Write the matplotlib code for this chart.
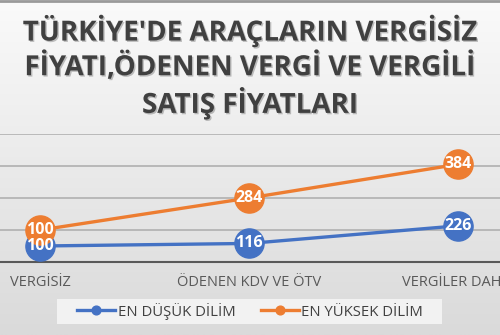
import numpy as np
import matplotlib.pyplot as plt
from matplotlib import patheffects
from matplotlib.colors import LinearSegmentedColormap
from matplotlib.patches import Rectangle

# data
categories = ['VERGİSİZ', 'ÖDENEN KDV VE ÖTV', 'VERGİLER DAHİL']
en_dusuk = [100, 116, 226]
en_yuksek = [100, 284, 384]
series_names = ['EN DÜŞÜK DİLİM', 'EN YÜKSEK DİLİM']

blue = '#4472C4'
orange = '#ED7D31'
plt.rcParams['font.family'] = ['Open Sans', 'DejaVu Sans']

fig = plt.figure(figsize=(5, 3.35), dpi=100)

# background gradient
bg = fig.add_axes([0, 0, 1, 1], zorder=-10)
grad = np.linspace(0, 1, 256).reshape(-1, 1)
bg.imshow(grad, aspect='auto', cmap=LinearSegmentedColormap.from_list('g', ['#fafafa', '#dadada']),
          extent=[0, 1, 0, 1])
bg.axhline(0.997, color='#9a9a9a', lw=2)
# legend background box
bg.add_patch(Rectangle((57 / 500, (335 - 324) / 335), 385 / 500, 25 / 335,
                       facecolor='#f2f2f2', edgecolor='none', zorder=2))
bg.set_xlim(0, 1)
bg.set_ylim(0, 1)
bg.set_axis_off()

# plot area wider than the figure (cropped like the original)
ax = fig.add_axes([-64 / 500, (335 - 262) / 335, 626 / 500, 128 / 335])
ax.patch.set_alpha(0)
x = np.arange(len(categories))
stacked = np.array(en_dusuk) + np.array(en_yuksek)

ax.plot(x, en_dusuk, color=blue, lw=2.4, marker='o', ms=21, label=series_names[0], zorder=3)
ax.plot(x, stacked, color=orange, lw=2.4, marker='o', ms=21, label=series_names[1], zorder=3)
for xi, v, s in zip(x, en_dusuk, en_dusuk):
    ax.text(xi, s, str(v), color='white', fontsize=11.5, fontweight='bold', ha='center', va='center', zorder=4)
for xi, v, s in zip(x, en_yuksek, stacked):
    ax.text(xi, s, str(v), color='white', fontsize=11.5, fontweight='bold', ha='center', va='center', zorder=4)

ax.set_xlim(-0.5, 2.5)
ax.set_ylim(0, 800)
ax.set_yticks([0, 200, 400, 600, 800])
ax.yaxis.grid(True, color='#b0b0b0', lw=1.2)
ax.set_axisbelow(True)
ax.tick_params(axis='y', left=False, labelleft=False)
ax.tick_params(axis='x', length=0, pad=9, labelsize=10.5, labelcolor='#595959')
ax.set_xticks(x)
ax.set_xticklabels(categories)
for sp in ['top', 'right', 'left']:
    ax.spines[sp].set_visible(False)
ax.spines['bottom'].set_color('#595959')
ax.spines['bottom'].set_linewidth(1.5)

leg = fig.legend(loc='center', bbox_to_anchor=(0.5, (335 - 311) / 335), ncol=2, frameon=False,
                 fontsize=10.7, markerscale=0.3, handlelength=2.6, handletextpad=0.15,
                 columnspacing=1.7, borderpad=0.35, borderaxespad=0)
for t in leg.get_texts():
    t.set_color('#404040')

fig.text(0.5, 1 - 67 / 335, "TÜRKİYE'DE ARAÇLARIN VERGİSİZ\nFİYATI,ÖDENEN VERGİ VE VERGİLİ\nSATIŞ FİYATLARI",
         ha='center', va='center', fontsize=20, fontweight='bold', color='#404040', linespacing=1.18,
         path_effects=[patheffects.withSimplePatchShadow(offset=(1, -1), alpha=0.25)])

fig.savefig('out.png', dpi=100)
